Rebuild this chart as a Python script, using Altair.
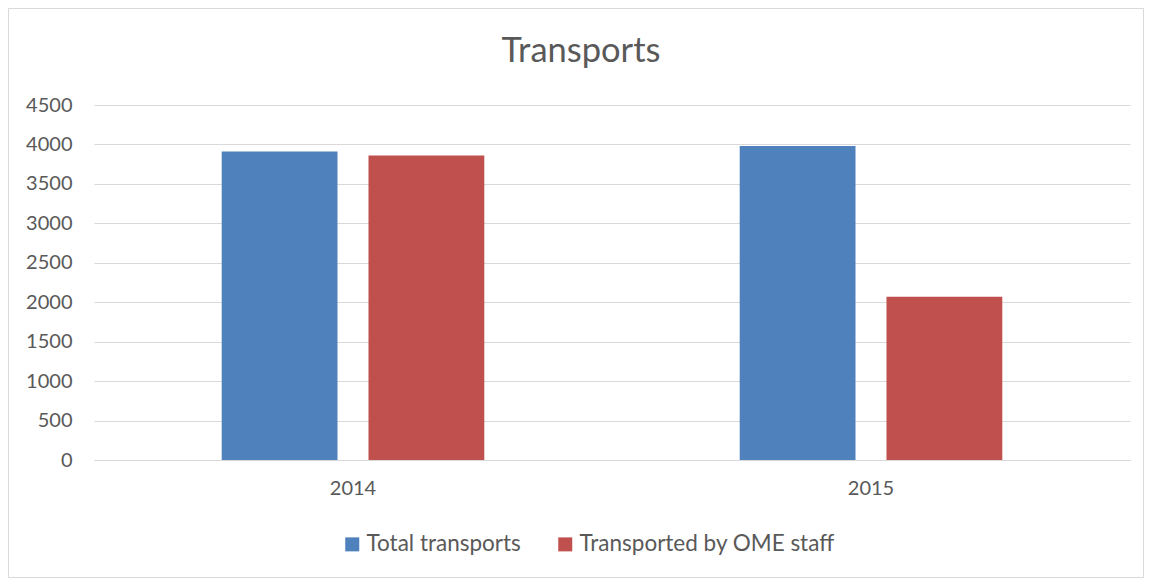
import altair as alt
import pandas as pd

years = ["2014", "2015"]
series = ["Total transports", "Transported by OME staff"]
total_transports = [3910, 3980]
ome_staff = [3860, 2070]
colors = ["#4f81bd", "#c0504d"]
y_ticks = list(range(0, 4501, 500))
title_text = "Transports"

rows = []
for i, yr in enumerate(years):
    rows.append({"year": yr, "series": series[0], "value": total_transports[i]})
    rows.append({"year": yr, "series": series[1], "value": ome_staff[i]})
df = pd.DataFrame(rows)

W, H = 1036, 355
PL, PT, PR, PB = 86, 97, 14, 118
FONT = "Lato"
TXT = "#595959"

border = alt.Chart(pd.DataFrame({"a": [0]})).mark_rect(
    fillOpacity=0, stroke="#d9d9d9", strokeWidth=1
).encode(
    x=alt.value(-PL + 0.5), x2=alt.value(W + PR - 0.5),
    y=alt.value(-PT + 0.5), y2=alt.value(H + PB - 0.5),
)

title = alt.Chart(pd.DataFrame({"t": [title_text]})).mark_text(
    fontSize=34.5, font=FONT, color=TXT, align="center", baseline="alphabetic"
).encode(
    text="t:N", x=alt.value(581 - 94), y=alt.value(62 - 105),
)

bars = alt.Chart(df).mark_bar().encode(
    x=alt.X("year:N", sort=years,
            scale=alt.Scale(paddingInner=0, paddingOuter=0),
            axis=alt.Axis(title=None, labelAngle=0, ticks=False, domainColor="#d9d9d9",
                          labelPadding=18, labelFontSize=20, labelColor=TXT, labelFont=FONT,
                          grid=False)),
    xOffset=alt.XOffset("series:N", sort=series,
                        scale=alt.Scale(paddingInner=0.211, paddingOuter=0.87)),
    y=alt.Y("value:Q", scale=alt.Scale(domain=[0, 4500], nice=False),
            axis=alt.Axis(title=None, values=y_ticks, format="d", ticks=False, domain=False,
                          gridColor="#d9d9d9", labelPadding=22, labelFontSize=20,
                          labelColor=TXT, labelFont=FONT)),
    color=alt.Color("series:N", sort=series,
                    scale=alt.Scale(domain=series, range=colors),
                    legend=alt.Legend(title=None, orient="none", direction="horizontal",
                                      legendX=247, legendY=428, symbolType="square",
                                      symbolSize=196, symbolStrokeWidth=0, labelFontSize=22.5,
                                      labelColor=TXT, labelFont=FONT, labelOffset=3,
                                      columnPadding=33, padding=0, labelLimit=400)),
)

chart = alt.layer(border, title, bars).properties(
    width=W, height=H,
    background="white",
    autosize=alt.AutoSizeParams(type="none"),
    padding={"left": PL, "top": PT, "right": PR, "bottom": PB},
).configure_view(stroke="transparent", strokeWidth=0)

chart.save("out.html", embed_options={"renderer": "svg", "actions": False})
